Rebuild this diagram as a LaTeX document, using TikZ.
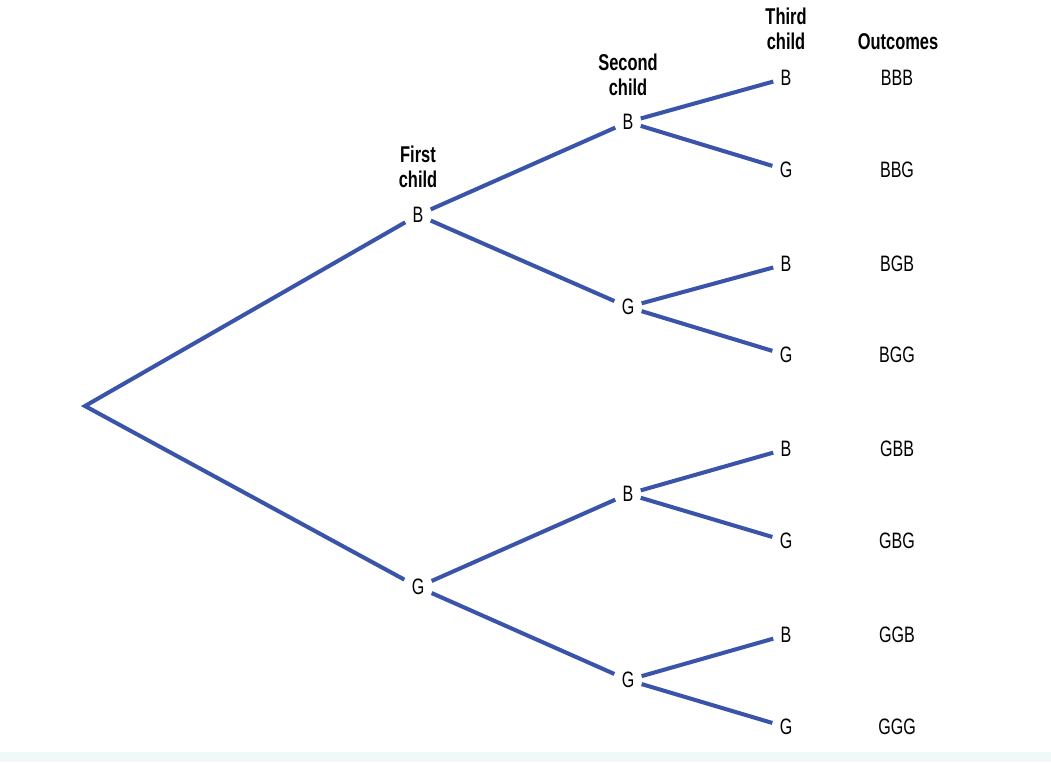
\documentclass[tikz,border=0pt]{standalone}
\usepackage{fontspec}
\setmainfont{Liberation Sans}[FakeStretch=0.72]
\usepackage{tikz}
\definecolor{treeblue}{RGB}{58,84,170}
\definecolor{bandblue}{RGB}{240,248,248}
\tikzset{
  kid/.style={inner sep=4pt, font=\fontsize{12.7}{14}\selectfont},
  outc/.style={font=\fontsize{12.7}{14}\selectfont},
  head/.style={align=center, font=\fontsize{13}{14.3}\selectfont\bfseries},
  branch/.style={treeblue, line width=2.3pt}
}
\begin{document}
\begin{tikzpicture}[x={(0.02cm,0cm)}, y={(0cm,-0.02cm)}]
\useasboundingbox (0,0) rectangle (1051,762);
\fill[bandblue] (0,752) rectangle (1051,762);
\coordinate (root) at (85,406);
\node[kid] (b) at (418,215) {B};
\node[kid] (g) at (418,587) {G};
\node[kid] (bb) at (628,122) {B};
\node[kid] (bg) at (628,307) {G};
\node[kid] (gb) at (628,494) {B};
\node[kid] (gg) at (628,680) {G};
\node[kid] (bbb) at (786,78) {B};
\node[kid] (bbg) at (786,170) {G};
\node[kid] (bgb) at (786,264) {B};
\node[kid] (bgg) at (786,355) {G};
\node[kid] (gbb) at (786,449) {B};
\node[kid] (gbg) at (786,541) {G};
\node[kid] (ggb) at (786,635) {B};
\node[kid] (ggg) at (786,727) {G};
\node[outc] (o1) at (897,78) {BBB};
\node[outc] (o2) at (897,170) {BBG};
\node[outc] (o3) at (897,264) {BGB};
\node[outc] (o4) at (897,355) {BGG};
\node[outc] (o5) at (897,449) {GBB};
\node[outc] (o6) at (897,541) {GBG};
\node[outc] (o7) at (897,635) {GGB};
\node[outc] (o8) at (897,727) {GGG};
\node[head] (h1) at (418,167) {First\\child};
\node[head] (h2) at (628,75) {Second\\child};
\node[head] (h3) at (786,29) {Third\\child};
\node[head] (h4) at (898,42) {Outcomes};
\draw[branch] (b) -- (root) -- (g);
\draw[branch] (bb) -- (b) -- (bg);
\draw[branch] (gb) -- (g) -- (gg);
\draw[branch] (bbb) -- (bb) -- (bbg);
\draw[branch] (bgb) -- (bg) -- (bgg);
\draw[branch] (gbb) -- (gb) -- (gbg);
\draw[branch] (ggb) -- (gg) -- (ggg);
\end{tikzpicture}
\end{document}
